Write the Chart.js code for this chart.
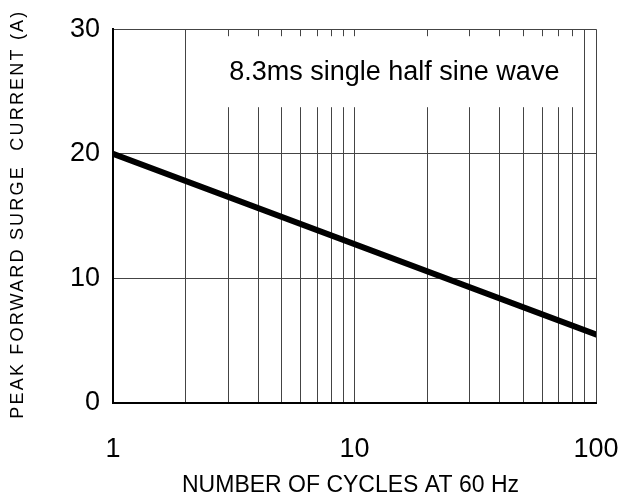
<!DOCTYPE html>
<html>
<head>
<meta charset="utf-8">
<script src="https://cdn.jsdelivr.net/npm/chart.js@4.4.1/dist/chart.umd.min.js"></script>
<style>
html,body{margin:0;padding:0;background:#fff;}
#wrap{width:621px;height:495px;}
</style>
</head>
<body>
<div id="wrap"><canvas id="c"></canvas></div>
<script>
/* ========= DATA ========= */
const cycles = [1, 100];
const current = [20, 5.5];
const xGrid = [1,2,3,4,5,6,7,8,9,10,20,30,40,50,60,70,80,90,100];
const xLabels = [1, 10, 100];
const yTicks = [0, 10, 20, 30];
const note = "8.3ms single half sine wave";
const xTitle = "NUMBER OF CYCLES AT 60 Hz";
const yTitle = "PEAK FORWARD SURGE  CURRENT (A)";

const FONT = "'Liberation Sans', Arial, sans-serif";

/* ========= NOTE + BROKEN GRID + AXIS TITLES ========= */
const notePlugin = {
  id: "note",
  beforeDatasetsDraw(chart){
    const {ctx, chartArea:a, scales:{x, y}} = chart;
    ctx.save();
    // clear grid behind the note, keep the lines at 2 and 90
    ctx.fillStyle = "#fff";
    const x0 = x.getPixelForValue(2) + 1, x1 = x.getPixelForValue(90) - 1;
    ctx.fillRect(x0, a.top + 7, x1 - x0, 71);
    ctx.fillStyle = "#000";
    ctx.font = "27px " + FONT;
    ctx.textBaseline = "middle";
    ctx.textAlign = "left";
    ctx.fillText(note, x.getPixelForValue(3) + 1, a.top + 43);
    ctx.restore();
  },
  afterDraw(chart){
    const {ctx, chartArea:a} = chart;
    ctx.save();
    ctx.fillStyle = "#000";
    ctx.textAlign = "center";
    ctx.textBaseline = "alphabetic";
    ctx.font = "23px " + FONT;
    ctx.fillText(xTitle, (a.left + a.right) / 2 - 4, 492);
    ctx.textBaseline = "middle";
    ctx.translate(18, (a.top + a.bottom) / 2 - 2);
    ctx.rotate(-Math.PI / 2);
    ctx.font = "18px " + FONT;
    ctx.letterSpacing = "2.2px";
    ctx.fillText(yTitle, 0, 0);
    ctx.restore();
  }
};

new Chart(document.getElementById("c"), {
  type: "line",
  data: {
    datasets: [{
      data: cycles.map((c, i) => ({x: c, y: current[i]})),
      borderColor: "#000",
      borderWidth: 6,
      borderCapStyle: "round",
      pointRadius: 0,
      tension: 0,
      fill: false
    }]
  },
  options: {
    responsive: true,
    maintainAspectRatio: false,
    animation: false,
    layout: {padding: {top: 29, right: 25, left: 0, bottom: 0}},
    plugins: {legend: {display: false}, tooltip: {enabled: false}},
    scales: {
      x: {
        type: "logarithmic",
        min: 1, max: 100,
        afterBuildTicks: s => { s.ticks = xGrid.map(v => ({value: v})); },
        afterFit: s => { s.height = 92; s.paddingRight = 0; s.paddingLeft = 0; },
        grid: {color: "#444", lineWidth: 1, drawTicks: false},
        border: {color: "#000", width: 2},
        ticks: {
          autoSkip: false, maxRotation: 0, padding: 30,
          color: "#000", font: {family: FONT, size: 27},
          callback: v => xLabels.includes(v) ? String(v) : ""
        },
        title: {display: false}
      },
      y: {
        min: 0, max: 30,
        afterBuildTicks: s => { s.ticks = yTicks.map(v => ({value: v})); },
        afterFit: s => { s.width = 113; },
        grid: {color: "#444", lineWidth: 1, drawTicks: false},
        border: {color: "#000", width: 2},
        ticks: {color: "#000", padding: 13, font: {family: FONT, size: 27}},
        title: {display: false}
      }
    }
  },
  plugins: [notePlugin]
});
</script>
</body>
</html>
